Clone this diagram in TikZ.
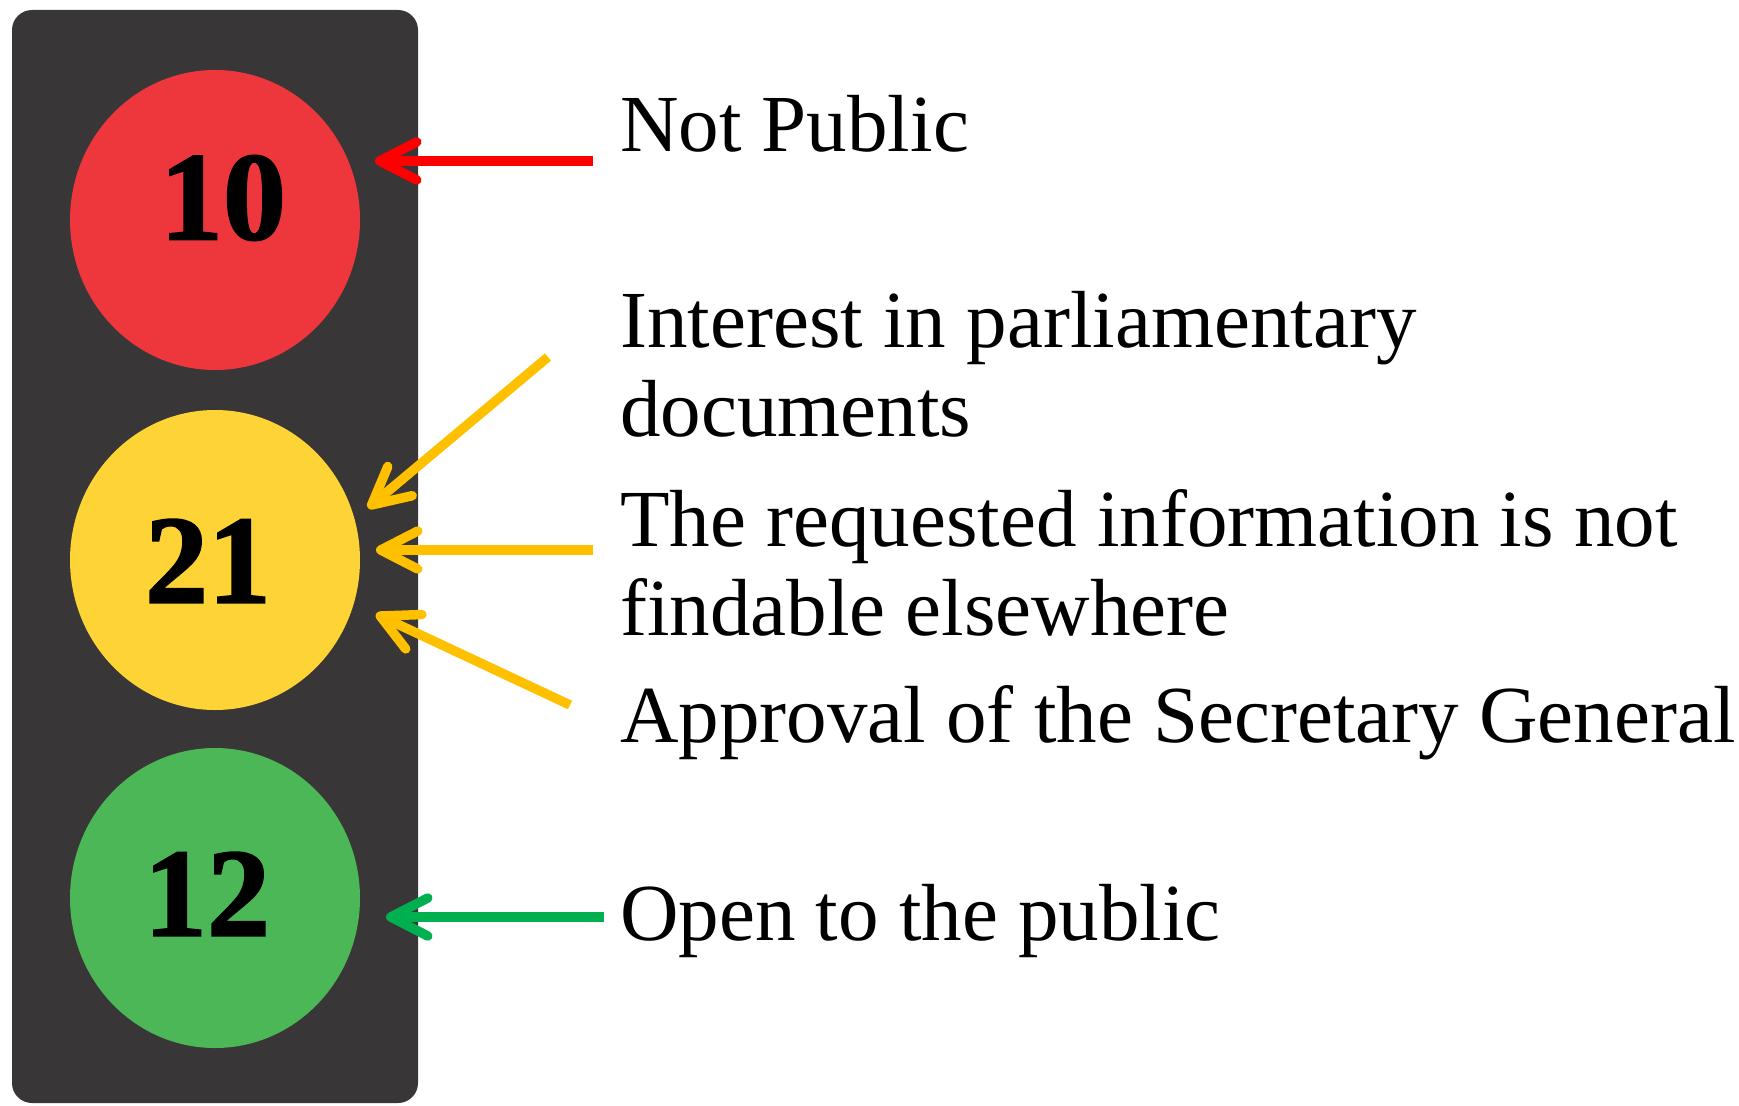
\documentclass[tikz,border=0pt]{standalone}
\usepackage{fontspec}
\setmainfont{Liberation Serif}
\newfontfamily\numfont{Liberation Serif}[BoldFeatures={FakeBold=1.6}]
\usetikzlibrary{arrows.meta,shapes.geometric}
\definecolor{boxgray}{RGB}{56,54,54}
\definecolor{lampred}{RGB}{238,54,61}
\definecolor{lampyellow}{RGB}{253,211,53}
\definecolor{lampgreen}{RGB}{76,183,87}
\definecolor{arrred}{RGB}{255,0,0}
\definecolor{arryellow}{RGB}{255,192,0}
\definecolor{arrgreen}{RGB}{0,176,80}
\tikzset{
  lamp/.style={ellipse, minimum width=290pt, minimum height=300pt, inner sep=0pt, draw=none},
  num/.style={font=\fontsize{126}{126}\numfont\bfseries, text=black, inner sep=0pt},
  lbl/.style={font=\fontsize{81}{89}\selectfont, anchor=base west, align=left, inner sep=0pt, text=black},
  pointer/.style={line width=9.5pt, -{Straight Barb[length=37pt,width=38pt,round]}}
}
\begin{document}
\begin{tikzpicture}[x=1pt,y=-1pt]
\useasboundingbox (0,0) rectangle (1739,1105);
\fill[boxgray, rounded corners=20pt] (12,10) rectangle (418,1103);
\node[lamp, fill=lampred] (red) at (215,220) {};
\node[lamp, fill=lampyellow] (yellow) at (215,560) {};
\node[lamp, fill=lampgreen] (green) at (215,898) {};
\node[num] (n10) at (223,198) {10};
\node[num] (n21) at (208,561) {21};
\node[num] (n12) at (207,894) {12};

\node[lbl] (t1) at (620,151) {Not Public};
\node[lbl] (t2) at (620,436) {Interest in parliamentary\\documents};
\node[lbl] (t3) at (620,635) {The requested information is not\\findable elsewhere};
\node[lbl] (t4) at (620,742) {Approval of the Secretary General};
\node[lbl] (t5) at (620,940) {Open to the public};

\coordinate (rs) at (593,161);
\coordinate (rt) at (375,161);
\coordinate (y1s) at (548,357);
\coordinate (y1t) at (368,508);
\coordinate (y2s) at (593,550);
\coordinate (y2t) at (376,550);
\coordinate (y3s) at (570,705);
\coordinate (y3t) at (376,614);
\coordinate (gs) at (604,917);
\coordinate (gt) at (386,917);

\draw[pointer, arrred] (rs) -- (rt);
\draw[pointer, arryellow] (y1s) -- (y1t);
\draw[pointer, arryellow] (y2s) -- (y2t);
\draw[pointer, arryellow] (y3s) -- (y3t);
\draw[pointer, arrgreen] (gs) -- (gt);
\end{tikzpicture}
\end{document}
